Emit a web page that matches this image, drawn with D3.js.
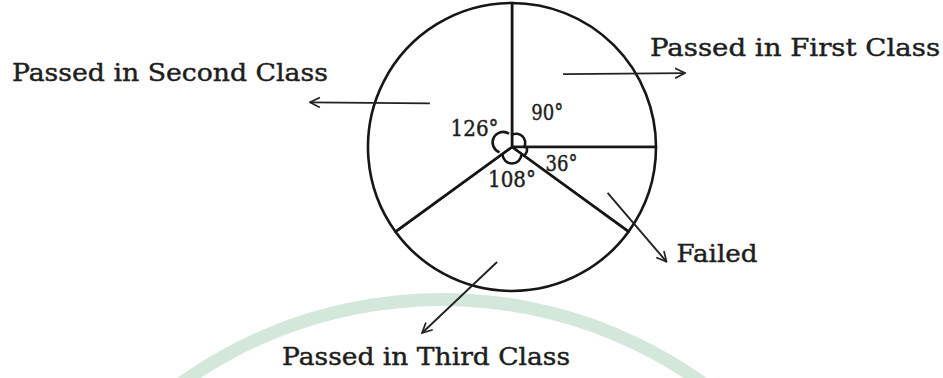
<!DOCTYPE html>
<html>
<head>
<meta charset="utf-8">
<script src="https://cdn.jsdelivr.net/npm/d3@7"></script>
<style>
  html, body { margin: 0; padding: 0; background: #fff; }
  svg { display: block; }
  text { font-family: "DejaVu Serif", "Liberation Serif", serif; fill: #1e1e1e; stroke: #1e1e1e; stroke-width: 0.45; }
</style>
</head>
<body>
<div id="chart"></div>
<script>
// result categories, in the order they go round the circle (clockwise from 12 o'clock)
var categories = ["Passed in First Class", "Failed", "Passed in Third Class", "Passed in Second Class"];
var degrees = [90, 36, 108, 126];
var degreeLabels = ["90°", "36°", "108°", "126°"];

(function () {
    var width = 943;
    var height = 378;
    var cx = 512, cy = 147;
    var radius = 144;

    // where each callout sits (layout only)
    var callouts = [
        { r: 89,  a: 35,    dx: 122, dy: -1,  tx: -35, ty: -17, anchor: "start",  len: 290 },
        { r: 106, a: 115.6, dx: 59,  dy: 69,  tx: 10,  ty: 0,   anchor: "start",  len: 81 },
        { r: 116, a: 187.4, dx: -75, dy: 71,  tx: 4,   ty: 32,  anchor: "middle", len: 288 },
        { r: 93,  a: 298,   dx: -120, dy: -1, tx: 18,  ty: -21, anchor: "end",    len: 316 }
    ];
    var labelRadius = [50, 52, 32, 42];
    var loops = [ { off: 6, r: 9 }, { off: 9, r: 6.5 }, { off: 7, r: 9.5 }, { off: 10, r: 10.5 } ];

    var rad = d3.scaleLinear().domain([0, 360]).range([0, 2 * Math.PI]);
    function polar(deg, r) {
        var t = rad(deg);
        return [Math.sin(t) * r, -Math.cos(t) * r];
    }

    var svg = d3.select("#chart").append("svg")
        .attr("width", width).attr("height", height);

    // faint watermark arc behind everything
    svg.append("path")
        .attr("transform", "translate(442,748)")
        .attr("d", d3.arc().innerRadius(442).outerRadius(455)
            .startAngle(-Math.PI / 2).endAngle(Math.PI / 2)())
        .attr("fill", "#d3e7db");

    var defs = svg.append("defs");
    defs.append("marker")
        .attr("id", "arrow")
        .attr("viewBox", "0 0 12 12")
        .attr("refX", 11).attr("refY", 6)
        .attr("markerWidth", 12).attr("markerHeight", 12)
        .attr("markerUnits", "userSpaceOnUse")
        .attr("orient", "auto")
        .append("path")
        .attr("d", "M1,1 L11,6 L1,11")
        .attr("fill", "none")
        .attr("stroke", "#222")
        .attr("stroke-width", 1.7);

    var pie = d3.pie().sort(null).value(function (d) { return d; });
    var arcs = pie(degrees);

    var g = svg.append("g").attr("transform", "translate(" + cx + "," + cy + ")");

    var arc = d3.arc().innerRadius(0).outerRadius(radius);
    g.selectAll("path.slice")
        .data(arcs)
        .enter().append("path")
        .attr("class", "slice")
        .attr("d", arc)
        .attr("fill", "#fff")
        .attr("stroke", "#161616")
        .attr("stroke-width", 2.6)
        .attr("stroke-linejoin", "round");

    // little angle loops at the centre
    g.selectAll("path.loop")
        .data(arcs)
        .enter().append("path")
        .attr("class", "loop")
        .attr("transform", function (d, i) {
            var mid = (d.startAngle + d.endAngle) / 2;
            var o = loops[i].off;
            return "translate(" + (Math.sin(mid) * o) + "," + (-Math.cos(mid) * o) + ")";
        })
        .attr("d", function (d, i) {
            return d3.arc().innerRadius(loops[i].r).outerRadius(loops[i].r)
                .startAngle(d.startAngle - 0.6).endAngle(d.endAngle + 0.6)();
        })
        .attr("fill", "none")
        .attr("stroke", "#161616")
        .attr("stroke-width", 2.6);

    // degree labels
    g.selectAll("text.deg")
        .data(arcs)
        .enter().append("text")
        .attr("class", "deg")
        .attr("x", function (d, i) { return Math.sin((d.startAngle + d.endAngle) / 2) * labelRadius[i]; })
        .attr("y", function (d, i) { return -Math.cos((d.startAngle + d.endAngle) / 2) * labelRadius[i]; })
        .attr("dy", "0.36em")
        .attr("text-anchor", "middle")
        .attr("font-size", 23)
        .attr("textLength", function (d, i) { return degreeLabels[i].length > 3 ? 48 : 32; })
        .attr("lengthAdjust", "spacingAndGlyphs")
        .text(function (d, i) { return degreeLabels[i]; });

    // arrows and category names
    var ann = g.selectAll("g.callout")
        .data(arcs)
        .enter().append("g")
        .attr("class", "callout");

    ann.append("line")
        .attr("x1", function (d, i) { return polar(callouts[i].a, callouts[i].r)[0]; })
        .attr("y1", function (d, i) { return polar(callouts[i].a, callouts[i].r)[1]; })
        .attr("x2", function (d, i) { return polar(callouts[i].a, callouts[i].r)[0] + callouts[i].dx; })
        .attr("y2", function (d, i) { return polar(callouts[i].a, callouts[i].r)[1] + callouts[i].dy; })
        .attr("stroke", "#222")
        .attr("stroke-width", 1.9)
        .attr("marker-end", "url(#arrow)");

    ann.append("text")
        .attr("x", function (d, i) { var c = callouts[i]; return polar(c.a, c.r)[0] + c.dx + c.tx; })
        .attr("y", function (d, i) { var c = callouts[i]; return polar(c.a, c.r)[1] + c.dy + c.ty; })
        .attr("text-anchor", function (d, i) { return callouts[i].anchor; })
        .attr("font-size", 25)
        .attr("textLength", function (d, i) { return callouts[i].len; })
        .attr("lengthAdjust", "spacingAndGlyphs")
        .text(function (d, i) { return categories[i]; });
})();
</script>
</body>
</html>
